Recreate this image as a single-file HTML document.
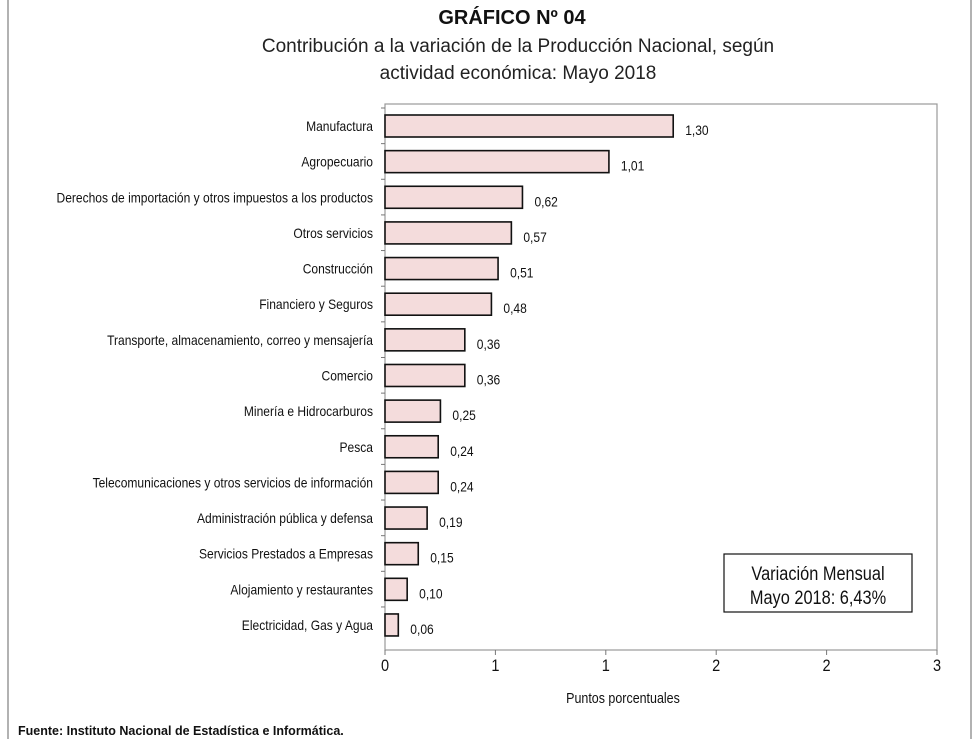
<!DOCTYPE html>
<html><head><meta charset="utf-8"><style>
body{margin:0;background:#fff;width:980px;height:739px;overflow:hidden;font-family:"Liberation Sans",sans-serif}
</style></head><body>
<svg id="chart" width="980" height="739" xmlns="http://www.w3.org/2000/svg" font-family="Liberation Sans, sans-serif">
<line x1="8" y1="0" x2="8" y2="739" stroke="#999" stroke-width="1.5"/>
<line x1="971" y1="0" x2="971" y2="739" stroke="#999" stroke-width="1.5"/>
<text x="512" y="24" text-anchor="middle" font-size="20" font-weight="bold" fill="#111">GRÁFICO Nº 04</text>
<text x="518" y="52" text-anchor="middle" font-size="19" fill="#222">Contribución a la variación de la Producción Nacional, según</text>
<text x="518" y="79" text-anchor="middle" font-size="19" fill="#222">actividad económica: Mayo 2018</text>
<rect x="385" y="104" width="552" height="546" fill="none" stroke="#999" stroke-width="1.2"/>
<g id="bars"></g>
<g id="axis"></g>
<text class="cond" x="623" y="703" text-anchor="middle" font-size="14.5" fill="#111">Puntos porcentuales</text>
<rect x="724" y="554" width="188" height="58" fill="#fff" stroke="#111" stroke-width="1.2"/>
<text class="cond" x="818" y="580" text-anchor="middle" font-size="19" fill="#111">Variación Mensual</text>
<text class="cond" x="818" y="604" text-anchor="middle" font-size="19" fill="#111">Mayo 2018: 6,43%</text>
<text x="18" y="735" font-size="12.5" font-weight="bold" fill="#111">Fuente:  Instituto Nacional de Estadística e Informática.</text>
</svg>
<script>
const categories=["Manufactura","Agropecuario","Derechos de importación y otros impuestos a los productos","Otros servicios","Construcción","Financiero y Seguros","Transporte, almacenamiento, correo y mensajería","Comercio","Minería e Hidrocarburos","Pesca","Telecomunicaciones y otros servicios de información","Administración pública y defensa","Servicios Prestados a Empresas","Alojamiento y restaurantes","Electricidad, Gas y Agua"];
const values=[1.30,1.01,0.62,0.57,0.51,0.48,0.36,0.36,0.25,0.24,0.24,0.19,0.15,0.10,0.06];
const tickValues=[0,0.6,1.2,1.8,2.4,3.0];
const tickLabels=["0","1","1","2","2","3"];
const NS="http://www.w3.org/2000/svg";
const x0=385,barScale=221.7,axisScale=184;
const xBar=v=>x0+v*barScale;
const xAxis=v=>x0+v*axisScale;
const yRow=i=>126+i*35.64;
function mk(t,a){const e=document.createElementNS(NS,t);for(const k in a)e.setAttribute(k,a[k]);return e;}
const bars=document.getElementById('bars'),axis=document.getElementById('axis');
categories.forEach((c,i)=>{
  const y=yRow(i);
  const r=mk('rect',{x:x0,y:y-11,width:xBar(values[i])-x0,height:22,fill:'#f4dcdc',stroke:'#111','stroke-width':1.6});
  
  
  bars.appendChild(r);
  const l=mk('text',{x:373,y:y+5,'text-anchor':'end','font-size':14,fill:'#111',class:'cond'});
  
  
  l.textContent=c;bars.appendChild(l);
  const v=mk('text',{x:xBar(values[i])+12,y:y+9,'font-size':14,fill:'#111',class:'cond'});
  
  
  v.textContent=values[i].toFixed(2).replace('.',',');bars.appendChild(v);
  const t=mk('line',{x1:381,y1:y-18,x2:385,y2:y-18,stroke:'#777'});
  
  
  axis.appendChild(t);
});
tickValues.forEach((tv,i)=>{
  const x=xAxis(tv);
  const t=mk('line',{x1:x,y1:650,x2:x,y2:655,stroke:'#777'});
  
  
  axis.appendChild(t);
  const l=mk('text',{x:x,y:671,'text-anchor':'middle','font-size':17,fill:'#111',class:'cond'});
  
  
  l.textContent=tickLabels[i];axis.appendChild(l);
});
document.querySelectorAll('.cond').forEach(el=>{
  const w=el.getComputedTextLength();
  el.setAttribute('lengthAdjust','spacingAndGlyphs');
  el.setAttribute('textLength',(w*0.86).toFixed(1));
});
</script>
</body></html>
